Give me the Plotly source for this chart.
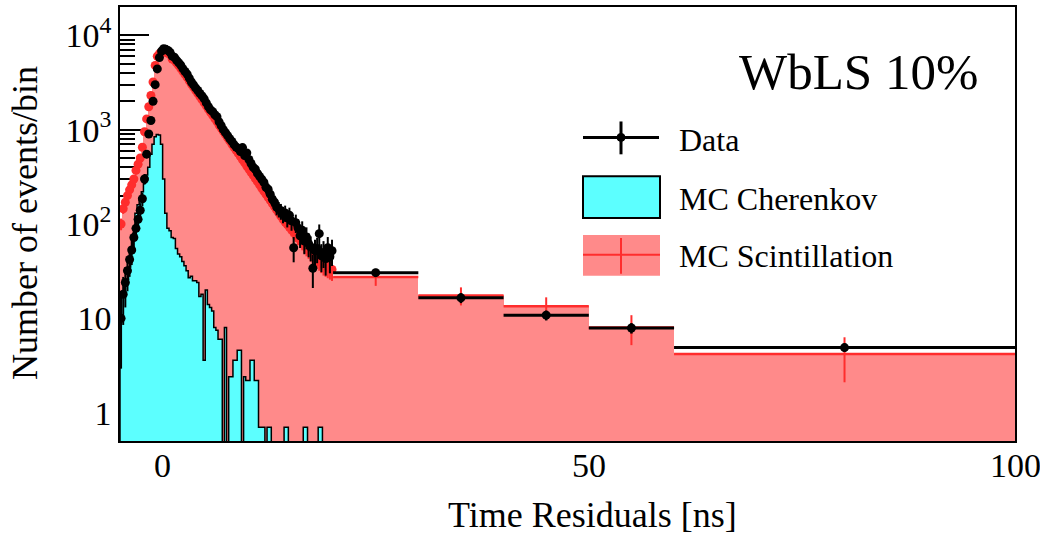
import numpy as np
import plotly.graph_objects as go

# ---------------- data ----------------
fine_start = -5.0
fine_width = 0.25
n_fine = 100
wide_edges = [20, 30, 40, 50, 60, 100]

data_fine = [10, 18, 24, 32, 42, 53, 72, 90, 112, 140,
             185, 300, 550, 900, 1250, 2000, 3000, 4400, 5800, 6800,
             7200, 7100, 6900, 6600, 6010, 5870, 5460, 5140, 4830, 4440,
             4130, 3880, 3520, 3200, 2980, 2770, 2600, 2420, 2280, 2120,
             1920, 1750, 1620, 1550, 1440, 1370, 1210, 1100, 1000, 930,
             865, 800, 750, 695, 655, 630, 587, 646, 532, 567,
             483, 438, 400, 380, 344, 320, 298, 277, 245, 234,
             207, 183, 170, 151, 144, 137, 127, 131, 116, 124,
             108, 56, 103, 91, 75, 86, 66, 73, 62, 57,
             34, 52, 55, 79, 46, 50, 43, 56, 45, 52]
data_wide = [30.5, 16.5, 10.8, 7.9, 4.9]
data_wide_err = [3.0, 2.0, 1.3, 1.0, 0.5]

scint_fine = [100, 145, 170, 200, 230, 260, 300, 370, 430, 500,
              650, 950, 1300, 1750, 2300, 3200, 4800, 6000, 6400, 6600,
              6700, 6600, 6450, 6250, 5600, 5450, 5100, 4800, 4480, 4150,
              3850, 3580, 3300, 3050, 2820, 2610, 2420, 2240, 2080, 1930,
              1790, 1650, 1530, 1420, 1310, 1220, 1120, 1040, 960, 890,
              820, 760, 705, 650, 605, 560, 520, 480, 445, 412,
              382, 354, 328, 303, 281, 260, 241, 223, 207, 192,
              178, 165, 153, 141, 131, 121, 112, 105, 99, 93,
              87, 82, 77, 72, 68, 64, 60, 56, 53, 50,
              47, 45, 43, 41, 39, 37, 36, 35, 34, 33]
scint_wide = [27.5, 17.5, 13.4, 8.0, 4.2]
scint_wide_err = [5.4, 3.8, 3.3, 2.8, 2.1]

cher_fine = [17, 18, 22, 26, 35, 50, 80, 130, 160, 190,
             220, 270, 330, 400, 550, 700, 840, 890, 880, 700,
             300, 130, 90, 85, 72, 70, 55, 48, 45, 40,
             36, 32, 27, 28, 25, 25, 24, 17, 18, 3.6,
             20, 14, 13, 12, 8, 7.5, 6, 6, 0, 8,
             0, 2.4, 2.4, 3.6, 3.6, 4.6, 4.6, 0, 2.4, 2.2,
             2.2, 3.6, 3.6, 2.2, 2.2, 0.7, 0.7, 0.7, 0, 0.7,
             0.7, 0, 0, 0, 0, 0, 0, 0.7, 0.7, 0,
             0, 0, 0, 0, 0, 0, 0.7, 0.7, 0, 0,
             0, 0, 0, 0.7, 0.7, 0, 0, 0, 0, 0]
cher_wide = [0, 0, 0, 0, 0]

y_tickvals = [1, 10, 100, 1000, 10000]
y_ticktext = ["1", "10", "10<sup>2</sup>", "10<sup>3</sup>", "10<sup>4</sup>"]
x_tickvals = [0, 50, 100]
x_ticktext = ["0", "50", "100"]

# ---------------- binning ----------------
fine_edges = fine_start + fine_width * np.arange(n_fine + 1)
edges = np.concatenate([fine_edges, np.array(wide_edges[1:], dtype=float)])
centers = 0.5 * (edges[:-1] + edges[1:])
widths = np.diff(edges)
half = widths / 2

fc = centers[:n_fine]
wc = centers[n_fine:]
fh = half[:n_fine]
wh = half[n_fine:]

scint_all = np.array(scint_fine + scint_wide, dtype=float)
cher_all = np.array(cher_fine + cher_wide, dtype=float)
data_f = np.array(data_fine, dtype=float)
data_err_f = np.sqrt(5 * data_f)
scint_err_f = np.sqrt(2 * np.array(scint_fine, dtype=float))

FONT = "Liberation Serif"
SALMON = "#ff8a8a"
CYAN = "#5cffff"
RED = "#ff2d2d"

fig = go.Figure()

# MC scintillation filled histogram
fig.add_trace(go.Bar(x=centers, y=scint_all, width=widths,
                     marker=dict(color=SALMON, line=dict(width=0)),
                     showlegend=False, hoverinfo="skip"))
# MC Cherenkov filled histogram
cher_bar = [v if v > 0 else None for v in cher_all]
fig.add_trace(go.Bar(x=centers, y=cher_bar, width=widths,
                     marker=dict(color=CYAN, line=dict(width=0)),
                     showlegend=False, hoverinfo="skip"))

# MC scintillation points with errors (fine bins)
fig.add_trace(go.Scatter(x=fc, y=scint_fine, mode="markers",
                         marker=dict(color=RED, size=9),
                         error_y=dict(type="data", array=scint_err_f, color=RED, thickness=2, width=0),
                         error_x=dict(type="data", array=fh, color=RED, thickness=2, width=0),
                         showlegend=False, hoverinfo="skip"))
# MC scintillation wide bins (line + error, no marker)
fig.add_trace(go.Scatter(x=wc, y=scint_wide, mode="markers",
                         marker=dict(color=RED, size=0.1),
                         error_y=dict(type="data", array=scint_wide_err, color=RED, thickness=2, width=0),
                         error_x=dict(type="data", array=wh, color=RED, thickness=2.5, width=0),
                         showlegend=False, hoverinfo="skip"))

# Cherenkov outline
floor = 1e-3
cvals = [v if v > 0 else floor for v in cher_fine]
ox = [fine_edges[0]] + list(fine_edges)
oy = [floor] + cvals + [floor]
fig.add_trace(go.Scatter(x=ox, y=oy, mode="lines", line=dict(color="black", width=1.5, shape="hv"),
                         showlegend=False, hoverinfo="skip"))

# Data fine bins
fig.add_trace(go.Scatter(x=fc, y=data_fine, mode="markers",
                         marker=dict(color="black", size=9),
                         error_y=dict(type="data", array=data_err_f, color="black", thickness=2, width=0),
                         error_x=dict(type="data", array=fh, color="black", thickness=2, width=0),
                         showlegend=False, hoverinfo="skip"))
# Data wide bins
fig.add_trace(go.Scatter(x=wc, y=data_wide, mode="markers",
                         marker=dict(color="black", size=9),
                         error_y=dict(type="data", array=data_wide_err, color="black", thickness=2.5, width=0),
                         error_x=dict(type="data", array=wh, color="black", thickness=3, width=0),
                         showlegend=False, hoverinfo="skip"))

minor_vals = [k * 10.0 ** d for d in range(-1, 5) for k in range(2, 10)]

# ---------------- legend (manual, ROOT style) ----------------
L, R, T, B = 120, 1015, 5, 441
def px(x):
    return (x - L) / (R - L)
def py(y):
    return (B - y) / (B - T)

shapes = [
    dict(type="line", xref="paper", yref="paper", x0=px(583), x1=px(659), y0=py(136), y1=py(136),
         line=dict(color="black", width=3)),
    dict(type="line", xref="paper", yref="paper", x0=px(621), x1=px(621), y0=py(120), y1=py(153),
         line=dict(color="black", width=3)),
    dict(type="circle", xref="paper", yref="paper", x0=px(617), x1=px(625), y0=py(132), y1=py(140),
         fillcolor="black", line=dict(color="black", width=1)),
    dict(type="rect", xref="paper", yref="paper", x0=px(583), x1=px(660), y0=py(175), y1=py(217),
         fillcolor=CYAN, line=dict(color="black", width=2)),
    dict(type="rect", xref="paper", yref="paper", x0=px(583), x1=px(660), y0=py(234), y1=py(275),
         fillcolor=SALMON, line=dict(width=0)),
    dict(type="line", xref="paper", yref="paper", x0=px(583), x1=px(660), y0=py(254), y1=py(254),
         line=dict(color=RED, width=2)),
    dict(type="line", xref="paper", yref="paper", x0=px(621), x1=px(621), y0=py(237), y1=py(273),
         line=dict(color=RED, width=2)),
]

annotations = [
    dict(text="Data", x=px(677), y=py(139), xref="paper", yref="paper", xanchor="left", yanchor="middle",
         showarrow=False, font=dict(family=FONT, size=32, color="black")),
    dict(text="MC Cherenkov", x=px(677), y=py(198), xref="paper", yref="paper", xanchor="left", yanchor="middle",
         showarrow=False, font=dict(family=FONT, size=32, color="black")),
    dict(text="MC Scintillation", x=px(677), y=py(255), xref="paper", yref="paper", xanchor="left", yanchor="middle",
         showarrow=False, font=dict(family=FONT, size=32, color="black")),
    dict(text="WbLS 10%", x=px(858), y=py(70), xref="paper", yref="paper", xanchor="center", yanchor="middle",
         showarrow=False, font=dict(family=FONT, size=51, color="black")),
    dict(text="Time Residuals [ns]", x=px(592), y=py(515), xref="paper", yref="paper", xanchor="center",
         yanchor="middle", showarrow=False, font=dict(family=FONT, size=36, color="black")),
    dict(text="Number of events/bin", x=px(25), y=py(222), xref="paper", yref="paper", xanchor="center",
         yanchor="middle", textangle=-90, showarrow=False, font=dict(family=FONT, size=36, color="black")),
]
# x tick labels (placed as text so the last one at the frame edge is kept)
for v, t in zip(x_tickvals, x_ticktext):
    annotations.append(dict(text=t, x=v, xref="x", y=py(466), yref="paper", xanchor="center",
                            yanchor="middle", showarrow=False,
                            font=dict(family=FONT, size=34, color="black")))

fig.update_layout(
    width=1040, height=536,
    margin=dict(l=L, r=1040 - R, t=T, b=536 - B),
    paper_bgcolor="white", plot_bgcolor="white",
    barmode="overlay", bargap=0,
    shapes=shapes, annotations=annotations,
    showlegend=False,
    font=dict(family=FONT, color="black"),
)
fig.update_xaxes(range=[-5, 100], showline=True, mirror=True, linecolor="black", linewidth=1.5,
                 ticks="", showticklabels=False,
                 showgrid=False, zeroline=False, layer="below traces")
fig.update_yaxes(type="log", range=[-0.3, 4.3], showline=True, mirror=True, linecolor="black", linewidth=1.5,
                 ticks="inside", ticklen=29, tickwidth=1.5, tickcolor="black",
                 tickvals=y_tickvals, ticktext=y_ticktext,
                 tickfont=dict(family=FONT, size=34, color="black"),
                 minor=dict(ticks="inside", ticklen=15, tickwidth=1.5, tickcolor="black",
                            tickvals=minor_vals, showgrid=False),
                 showgrid=False, zeroline=False, layer="below traces")

fig.write_html("out.html")
